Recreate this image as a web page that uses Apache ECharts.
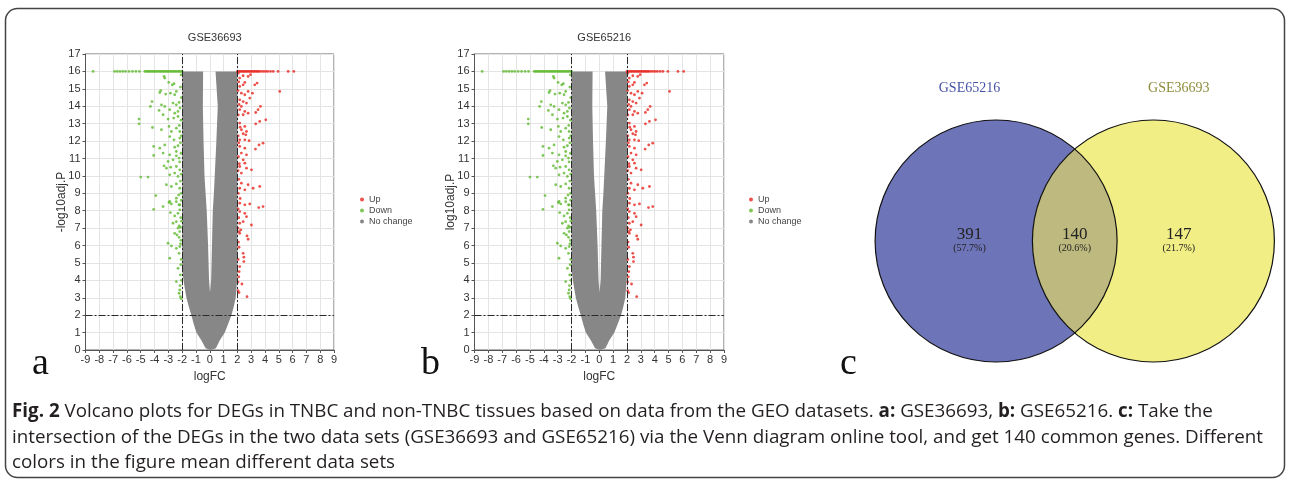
<!DOCTYPE html>
<html>
<head>
<meta charset="utf-8">
<title>Volcano plots and Venn diagram</title>
<script src="https://cdn.jsdelivr.net/npm/echarts@6.0.0/dist/echarts.min.js"></script>
<style>
    html, body { margin: 0; padding: 0; background: #fff; }
    #figure { width: 1290px; height: 481px; }
</style>
</head>
<body>
<div id="figure"></div>
<script>

// Chart data
// ------------------------------

// Panel titles (a, b)
var panelTitles = ['GSE36693', 'GSE65216'];

// Significant up-regulated genes [logFC, -log10 adj.P], values capped at 16
var upGenes = [
    [2.0,16],[2.1,16],[2.2,16],[2.3,16],[2.4,16],[2.5,16],[2.6,16],[2.7,16],[2.8,16],[2.9,16],
    [3.0,16],[3.1,16],[3.2,16],[3.3,16],[3.4,16],[3.5,16],[3.6,16],[3.75,16],[3.9,16],[4.05,16],
    [4.2,16],[4.4,16],[4.6,16],[4.95,16],[5.68,16],[6.09,16],
    [2.42,15.75],[2.17,15.62],[2.78,15.71],[2.95,15.81],[3.26,15.23],[3.43,15.33],[2.42,15.23],[2.54,15.37],
    [2.17,15.14],[5.07,14.85],[3.09,14.75],[2.29,14.75],[2.54,14.66],[2.78,14.85],[2.9,14.47],[2.17,14.37],
    [2.42,14.27],[2.66,14.18],[2.29,13.99],[3.67,13.99],[3.5,13.8],[3.33,13.64],[2.17,13.8],[2.54,13.7],
    [2.78,13.6],[2.42,13.51],[4.06,13.22],[3.62,13.13],[3.33,12.99],[2.17,13.03],[2.54,12.84],[2.29,12.65],
    [2.66,12.55],[2.42,12.42],[2.61,12.36],[2.17,12.07],[2.54,12.07],[2.85,12.02],[3.86,11.88],[3.57,11.78],
    [3.31,11.54],[2.17,11.69],[2.54,11.59],[2.29,11.31],[2.66,11.21],[2.42,10.92],[2.54,10.73],[3.02,10.35],
    [2.17,10.54],[2.66,10.44],[2.29,10.16],[3.62,9.39],[3.14,9.29],[2.78,9.49],[2.29,9.58],[2.17,9.29],
    [2.54,9.2],[2.17,8.43],[2.54,8.34],[2.9,8.39],[3.55,8.18],[3.86,8.24],[2.17,7.95],[2.54,7.85],
    [2.66,7.66],[2.42,7.37],[2.17,7.28],[3.02,7.18],[2.13,6.8],[2.17,6.7],[2.7,6.55],[2.78,6.36],
    [2.42,5.55],[2.47,5.33],[2.47,5.08],[2.17,4.79],[2.13,4.5],[2.33,3.79],[2.05,3.41],[2.7,3.06],
    [2.06,15.9],[2.1,15.4],[2.05,14.9],[2.12,14.1],[2.07,13.5],[2.2,12.8],[2.06,12.3],[2.1,11.9],
    [2.08,11.1],[2.14,10.7],[2.05,10.3],[2.1,9.8],[2.07,9.0],[2.2,8.7],[2.06,8.1],[2.1,7.6],
    [2.05,7.0],[2.25,6.9],[2.08,6.2],[2.12,5.9],[2.06,5.2],[2.1,4.2],[2.05,3.9],[2.12,3.3]
];

// Significant down-regulated genes [logFC, -log10 adj.P], values capped at 16
var downGenes = [
    [-8.45,16],[-6.9,16],[-6.7,16],[-6.5,16],[-6.3,16],[-6.1,16],[-5.85,16],[-5.6,16],[-5.35,16],[-5.1,16],
    [-4.7,16],[-4.6,16],[-4.5,16],[-4.4,16],[-4.3,16],[-4.2,16],[-4.1,16],[-4.0,16],[-3.9,16],[-3.8,16],
    [-3.7,16],[-3.6,16],[-3.5,16],[-3.4,16],[-3.3,16],[-3.2,16],[-3.1,16],[-3.0,16],[-2.9,16],[-2.8,16],
    [-2.7,16],[-2.6,16],[-2.5,16],[-2.4,16],[-2.3,16],[-2.2,16],[-2.1,16],[-2.0,16],
    [-3.31,15.71],[-3.26,15.62],[-2.97,15.37],[-2.71,15.23],[-2.59,15.29],[-3.62,14.79],[-3.55,14.9],[-3.19,14.7],
    [-2.85,14.75],[-2.54,14.66],[-2.42,14.85],[-4.18,14.27],[-4.3,13.99],[-3.5,14.08],[-3.26,13.99],[-2.66,14.18],
    [-2.42,14.08],[-2.22,14.22],[-3.67,13.76],[-2.9,13.8],[-2.54,13.6],[-2.3,13.7],[-5.12,13.26],[-5.12,12.99],
    [-3.38,13.51],[-3.02,13.26],[-2.61,13.32],[-2.3,13.41],[-4.15,12.78],[-3.5,12.65],[-2.95,12.84],[-2.78,12.55],
    [-2.42,12.74],[-2.17,12.55],[-2.9,12.26],[-2.59,12.07],[-2.17,12.17],[-4.06,11.69],[-3.62,11.59],[-3.26,11.78],
    [-2.54,11.65],[-2.42,11.4],[-2.3,11.73],[-4.06,11.17],[-3.38,11.31],[-3.02,10.83],[-2.9,11.21],[-2.66,10.92],
    [-2.42,11.15],[-2.22,11.02],[-3.31,10.58],[-3.14,10.44],[-2.83,10.5],[-2.42,10.54],[-2.17,10.35],[-5.0,9.93],
    [-4.47,9.93],[-2.9,10.06],[-2.54,10.16],[-2.3,9.97],[-3.14,9.49],[-2.78,9.39],[-2.42,9.54],[-2.17,9.29],
    [-3.91,8.87],[-3.38,8.24],[-2.9,8.53],[-2.42,8.72],[-2.22,8.34],[-4.06,8.08],[-2.95,8.47],[-2.78,8.39],
    [-2.42,8.52],[-2.17,8.33],[-2.85,7.89],[-2.54,7.7],[-2.3,7.85],[-2.17,8.05],[-2.66,7.28],[-2.42,7.37],
    [-2.22,7.13],[-2.13,7.05],[-2.54,6.7],[-2.37,6.61],[-2.22,6.47],[-2.17,6.8],[-3.02,6.13],[-2.78,5.98],
    [-2.42,5.84],[-2.22,5.55],[-2.17,5.94],[-2.9,5.27],[-2.3,4.69],[-2.13,4.31],[-2.42,3.93],[-2.17,3.45],
    [-2.22,3.26],[-2.13,3.06],
    [-2.08,15.8],[-2.12,15.1],[-2.06,14.5],[-2.15,13.9],[-2.08,13.2],[-2.2,12.9],[-2.06,12.3],[-2.12,11.9],
    [-2.08,11.3],[-2.18,10.8],[-2.06,10.1],[-2.12,9.7],[-2.08,9.0],[-2.25,8.9],[-2.06,8.6],[-2.1,7.6],
    [-2.05,7.4],[-2.3,7.0],[-2.08,6.3],[-2.12,6.1],[-2.06,5.2],[-2.1,4.9],[-2.05,4.0],[-2.15,3.7],[-2.07,2.95]
];

// Outline of the dense cloud of unchanged genes [logFC, -log10 adj.P]
var noChangeOutline = [
    [0.05,0],[-0.3,0.1],[-0.6,0.55],[-0.97,1],[-1.16,1.5],[-1.33,2],[-1.52,2.5],[-1.69,3],[-1.8,3.5],
    [-1.9,4],[-1.98,4.5],[-2,5],[-2,16],[-0.48,16],[-0.5,14],[-0.45,12],[-0.38,10],[-0.3,9],[-0.22,8],
    [-0.12,6],[-0.05,4],[0.02,3.3],[0.1,4],[0.16,6],[0.22,8],[0.3,9],[0.36,10],[0.48,12],[0.58,14],
    [0.42,16],[2,16],[2,5],[2.02,4.5],[1.98,4],[1.93,3.5],[1.88,3],[1.74,2.5],[1.57,2],[1.33,1.5],
    [1.09,1],[0.72,0.55],[0.45,0.1]
];

// Cut-offs drawn as dash-dot lines
var logFcCutoff = [-2, 2];
var pCutoff = 2;

// Venn diagram
var vennSets = ['GSE65216', 'GSE36693'];
var vennCounts = [391, 140, 147];
var vennPercents = ['(57.7%)', '(20.6%)', '(21.7%)'];

// Caption lines
var captionLines = [
    '{b|Fig. 2} Volcano plots for DEGs in TNBC and non-TNBC tissues based on data from the GEO datasets. {b|a:} GSE36693, {b|b:} GSE65216. {b|c:} Take the',
    'intersection of the DEGs in the two data sets (GSE36693 and GSE65216) via the Venn diagram online tool, and get 140 common genes. Different',
    'colors in the figure mean different data sets'
];


// Setup module
// ------------------------------

var VolcanoVennFigure = function() {

    var sansFont = '"Liberation Sans", Arial, sans-serif';
    var serifFont = '"Liberation Serif", "DejaVu Serif", serif';
    var captionFont = '"Open Sans", sans-serif';

    // Panel geometry
    var panelLeft = [85.5, 474.5];
    var panelWidth = [248.5, 249.5];

    var _volcanoAxis = function(index, kind) {
        var isX = kind === 'x';
        return {
            type: 'value',
            gridIndex: index,
            min: isX ? -9 : 0,
            max: isX ? 9 : 17,
            interval: 1,
            name: isX ? 'logFC' : (index === 0 ? '-log10adj.P' : 'log10adj.P'),
            nameLocation: 'middle',
            nameGap: isX ? 21 : 17.5,
            nameMoveOverlap: false,
            nameTextStyle: { fontFamily: sansFont, fontSize: 12, color: '#333' },
            axisLine: { show: true, onZero: false, lineStyle: { color: '#555' } },
            axisTick: { show: true, length: 3, lineStyle: { color: '#555' } },
            axisLabel: { fontFamily: sansFont, fontSize: 11, color: '#333', margin: isX ? 4 : 5 },
            splitLine: { show: true, lineStyle: { color: '#e4e4e4' } }
        };
    };

    var _volcanoSeries = function(index) {
        var pointStyle = function(name, data, color) {
            return {
                name: name,
                type: 'scatter',
                xAxisIndex: index,
                yAxisIndex: index,
                symbol: 'circle',
                symbolSize: 2.8,
                itemStyle: { color: color },
                data: data,
                z: 3
            };
        };

        var cutoffs = logFcCutoff.map(function(v) { return { xAxis: v }; });
        cutoffs.push({ yAxis: pCutoff });

        var up = pointStyle('Up', upGenes, '#e8251f');
        up.markLine = {
            silent: true,
            symbol: 'none',
            label: { show: false },
            lineStyle: { color: '#2a2a2a', width: 1, type: [7, 2, 2, 2] },
            data: cutoffs,
            z: 4
        };

        return [
            {
                name: 'No change',
                type: 'custom',
                xAxisIndex: index,
                yAxisIndex: index,
                itemStyle: { color: '#878787' },
                data: noChangeOutline,
                z: 2,
                renderItem: function(params, api) {
                    if (params.dataIndex !== 0) {
                        return;
                    }
                    return {
                        type: 'polygon',
                        shape: { points: noChangeOutline.map(function(p) { return api.coord(p); }) },
                        style: { fill: '#878787' }
                    };
                }
            },
            pointStyle('Down', downGenes, '#5fb92e'),
            up
        ];
    };

    // Venn diagram drawn on its own unit grid (circle radius = 1)
    var _vennSeries = function() {
        var half = 0.65;
        return {
            type: 'custom',
            xAxisIndex: 2,
            yAxisIndex: 2,
            data: [[0, 0]],
            silent: true,
            renderItem: function(params, api) {
                var c1 = api.coord([-half, 0]);
                var c2 = api.coord([half, 0]);
                var r = api.size([1, 0])[0];
                var theta = Math.acos(((c2[0] - c1[0]) / 2) / r);
                var lens = [];
                var i, a;
                for (i = 0; i <= 40; i++) {
                    a = -theta + 2 * theta * i / 40;
                    lens.push([c1[0] + r * Math.cos(a), c1[1] + r * Math.sin(a)]);
                }
                for (i = 0; i <= 40; i++) {
                    a = Math.PI - theta + 2 * theta * i / 40;
                    lens.push([c2[0] + r * Math.cos(a), c2[1] + r * Math.sin(a)]);
                }

                var text = function(str, pos, size, color) {
                    var p = api.coord(pos);
                    return {
                        type: 'text',
                        x: p[0],
                        y: p[1],
                        style: {
                            text: str,
                            fill: color,
                            fontFamily: serifFont,
                            fontSize: size,
                            align: 'center',
                            verticalAlign: 'middle'
                        }
                    };
                };

                return {
                    type: 'group',
                    children: [
                        { type: 'circle', shape: { cx: c1[0], cy: c1[1], r: r }, style: { fill: '#6d74b7' } },
                        { type: 'circle', shape: { cx: c2[0], cy: c2[1], r: r }, style: { fill: '#f2ee86' } },
                        { type: 'polygon', shape: { points: lens }, style: { fill: '#bdb97f' } },
                        { type: 'circle', shape: { cx: c1[0], cy: c1[1], r: r }, style: { fill: null, stroke: '#111', lineWidth: 1.2 } },
                        { type: 'circle', shape: { cx: c2[0], cy: c2[1], r: r }, style: { fill: null, stroke: '#111', lineWidth: 1.2 } },
                        text(vennSets[0], [-0.87, 1.264], 14, '#4652a6'),
                        text(vennSets[1], [0.86, 1.264], 14, '#8e8c3c'),
                        text(String(vennCounts[0]), [-0.87, 0.05], 17, '#222'),
                        text(String(vennCounts[1]), [0, 0.05], 17, '#222'),
                        text(String(vennCounts[2]), [0.86, 0.05], 17, '#222'),
                        text(vennPercents[0], [-0.87, -0.06], 10, '#222'),
                        text(vennPercents[1], [0, -0.06], 10, '#222'),
                        text(vennPercents[2], [0.86, -0.06], 10, '#222')
                    ]
                };
            }
        };
    };

    var _figure = function() {
        if (typeof echarts == 'undefined') {
            console.warn('Warning - echarts.min.js is not loaded.');
            return;
        }

        var element = document.getElementById('figure');
        if (!element) {
            return;
        }

        var chart = echarts.init(element, null, { renderer: 'canvas' });

        var legendBlock = function(left) {
            return {
                data: ['Up', 'Down', 'No change'],
                orient: 'vertical',
                left: left,
                top: 190,
                icon: 'circle',
                itemWidth: 4,
                itemHeight: 4,
                itemGap: 2,
                textStyle: { fontFamily: sansFont, fontSize: 9, color: '#444' }
            };
        };

        var letter = function(str, left) {
            return {
                type: 'text',
                left: left,
                top: 345,
                style: { text: str, font: '38px ' + serifFont, fill: '#111' }
            };
        };

        var caption = captionLines.map(function(line, i) {
            return {
                type: 'text',
                left: 12,
                top: 402.5 + i * 25.5,
                style: {
                    text: line,
                    fontFamily: captionFont,
                    fontSize: 18.8,
                    fill: '#231f20',
                    rich: { b: { fontFamily: captionFont, fontSize: 18.8, fontWeight: 'bold', fill: '#231f20' } }
                }
            };
        });

        chart.setOption({
            animation: false,
            textStyle: { fontFamily: sansFont },

            title: panelTitles.map(function(t, i) {
                return {
                    text: t,
                    left: panelLeft[i] + panelWidth[i] / 2,
                    top: 27,
                    textAlign: 'center',
                    textStyle: { fontFamily: sansFont, fontSize: 11, fontWeight: 'normal', color: '#333' }
                };
            }),

            legend: [legendBlock(355), legendBlock(744)],

            grid: [
                { left: panelLeft[0], top: 54, width: panelWidth[0], height: 296, show: true, borderColor: '#666', borderWidth: 1 },
                { left: panelLeft[1], top: 54, width: panelWidth[1], height: 296, show: true, borderColor: '#666', borderWidth: 1 },
                { left: 863, top: 95.8, width: 423.5, height: 290.4, show: false }
            ],

            xAxis: [
                _volcanoAxis(0, 'x'),
                _volcanoAxis(1, 'x'),
                { type: 'value', gridIndex: 2, min: -1.75, max: 1.75, show: false }
            ],

            yAxis: [
                _volcanoAxis(0, 'y'),
                _volcanoAxis(1, 'y'),
                { type: 'value', gridIndex: 2, min: -1.2, max: 1.2, show: false }
            ],

            series: _volcanoSeries(0).concat(_volcanoSeries(1), [_vennSeries()]),

            graphic: [
                {
                    type: 'rect',
                    shape: { x: 5.5, y: 8.5, width: 1279, height: 469, r: 12 },
                    style: { fill: null, stroke: '#444', lineWidth: 1.5 },
                    z: 0
                },
                letter('a', 32),
                letter('b', 421),
                letter('c', 840)
            ].concat(caption)
        });

        window.addEventListener('resize', function() {
            chart.resize();
        });
    };

    return {
        init: function() {
            _figure();
        }
    };
}();


// Initialize module
// ------------------------------

document.addEventListener('DOMContentLoaded', function() {
    VolcanoVennFigure.init();
});
</script>
</body>
</html>
